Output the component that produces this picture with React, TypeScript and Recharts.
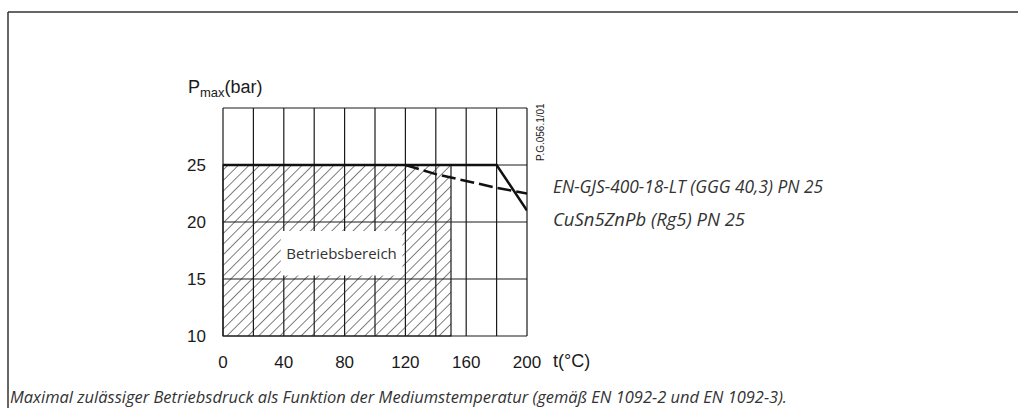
import React from 'react';
import {
  ComposedChart,
  Line,
  XAxis,
  YAxis,
  ReferenceLine,
  ReferenceArea,
  Customized
} from 'recharts';

// temperature / pressure values
const xTicks = [0, 40, 80, 120, 160, 200];
const yTicks = [10, 15, 20, 25];
const gridT = [20, 40, 60, 80, 100, 120, 140, 160, 180, 200];
const gridP = [15, 20, 25, 30];

const solidT = [0, 180, 200];
const solidP = [25, 25, 21];
const dashT = [120, 140, 160, 180, 200];
const dashP = [25, 24.2, 23.6, 23.0, 22.5];

const hatchT = [0, 150];
const hatchP = [10, 25];
const boxT = [38, 118];
const boxP = [15.3, 19.2];

const legendLines = ['EN-GJS-400-18-LT (GGG 40,3) PN 25', 'CuSn5ZnPb (Rg5) PN 25'];
const legendWidths = [270, 192];
const caption =
  'Maximal zulässiger Betriebsdruck als Funktion der Mediumstemperatur (gemäß EN 1092-2 und EN 1092-3).';

const allT = Array.from(new Set([...solidT, ...dashT])).sort((a, b) => a - b);
const chartData = allT.map(t => {
  const si = solidT.indexOf(t);
  const di = dashT.indexOf(t);
  return {
    t,
    solid: si >= 0 ? solidP[si] : undefined,
    dash: di >= 0 ? dashP[di] : undefined
  };
});

const INK = '#1a1a1a';
const italicFont = '"Open Sans", "DejaVu Sans", sans-serif';
const sansFont = '"Liberation Sans", Arial, sans-serif';

const PmaxLabel = (props: any) => {
  const vb = props.viewBox || { x: 183, y: 108 };
  return (
    <text x={vb.x + 5} y={vb.y - 15} fill={INK} fontSize={18} fontFamily={sansFont}>
      P
      <tspan dy={4} fontSize={13}>max</tspan>
      <tspan dy={-4}>(bar)</tspan>
    </text>
  );
};

const TLabel = (props: any) => {
  const vb = props.viewBox || { x: 223, y: 336, width: 304 };
  return (
    <text x={vb.x + vb.width + 26} y={vb.y + 31} fill={INK} fontSize={18} fontFamily={sansFont}>
      t(°C)
    </text>
  );
};

const Decorations = () => (
  <g>
    <line x1={8} y1={12} x2={1018} y2={12} stroke="#333" strokeWidth={1.5} />
    <line x1={8} y1={12} x2={8} y2={408} stroke="#333" strokeWidth={1.5} />
    <text
      x={0}
      y={0}
      transform="translate(544,161) rotate(-90)"
      fontSize={10}
      fill={INK}
      fontFamily={sansFont}
    >
      P.G.056.1/01
    </text>
    {legendLines.map((l, i) => (
      <text
        key={l}
        x={553}
        y={193 + i * 33}
        fontSize={18}
        fontStyle="italic"
        fill="#333"
        fontFamily={italicFont}
        textLength={legendWidths[i]}
        lengthAdjust="spacingAndGlyphs"
      >
        {l}
      </text>
    ))}
    <text
      x={10}
      y={403}
      fontSize={16.5}
      fontStyle="italic"
      fill="#333"
      fontFamily={italicFont}
      textLength={777}
      lengthAdjust="spacingAndGlyphs"
    >
      {caption}
    </text>
  </g>
);

export default function App() {
  return (
    <div style={{ position: 'absolute', left: 0, top: 0, width: 1018, height: 408, background: '#fff' }}>
      <ComposedChart
        width={1018}
        height={408}
        data={chartData}
        margin={{ top: 108, right: 491, bottom: 42, left: 183 }}
      >
        <defs>
          <pattern id="hatch" patternUnits="userSpaceOnUse" width={7.5} height={7.5} patternTransform="rotate(45)">
            <line x1={0} y1={0} x2={0} y2={7.5} stroke="#000" strokeWidth={1} />
          </pattern>
        </defs>
        <XAxis
          dataKey="t"
          type="number"
          domain={[0, 200]}
          ticks={xTicks}
          allowDataOverflow
          height={30}
          tickLine={false}
          tickSize={0}
          tickMargin={20}
          axisLine={{ stroke: INK, strokeWidth: 1.2 }}
          tick={{ fill: INK, fontSize: 17, fontFamily: sansFont }}
          label={{ content: TLabel }}
        />
        <YAxis
          type="number"
          domain={[10, 30]}
          ticks={yTicks}
          allowDataOverflow
          width={40}
          tickLine={false}
          tickSize={0}
          tickMargin={17}
          axisLine={{ stroke: INK, strokeWidth: 1.2 }}
          tick={{ fill: INK, fontSize: 17, fontFamily: sansFont }}
          label={{ content: PmaxLabel }}
        />
        <ReferenceArea
          x1={hatchT[0]}
          x2={hatchT[1]}
          y1={hatchP[0]}
          y2={hatchP[1]}
          fill="url(#hatch)"
          fillOpacity={1}
          stroke={INK}
          strokeWidth={1.2}
          zIndex={1}
        />
        {gridT.map(t => (
          <ReferenceLine key={`gt-${t}`} x={t} stroke={INK} strokeWidth={1.2} zIndex={2} />
        ))}
        {gridP.map(p => (
          <ReferenceLine key={`gp-${p}`} y={p} stroke={INK} strokeWidth={1.2} zIndex={2} />
        ))}
        <ReferenceArea
          x1={boxT[0]}
          x2={boxT[1]}
          y1={boxP[0]}
          y2={boxP[1]}
          fill="#fff"
          fillOpacity={1}
          stroke="none"
          zIndex={3}
          label={{ value: 'Betriebsbereich', position: 'center', fill: '#333', fontSize: 15, fontFamily: italicFont }}
        />
        <Line
          dataKey="dash"
          stroke="#111"
          strokeWidth={2.5}
          strokeDasharray="14 5"
          dot={false}
          connectNulls
          isAnimationActive={false}
          zIndex={4}
        />
        <Line
          dataKey="solid"
          stroke="#111"
          strokeWidth={2.5}
          dot={false}
          connectNulls
          isAnimationActive={false}
          zIndex={4}
        />
        <Customized component={Decorations} />
      </ComposedChart>
    </div>
  );
}
